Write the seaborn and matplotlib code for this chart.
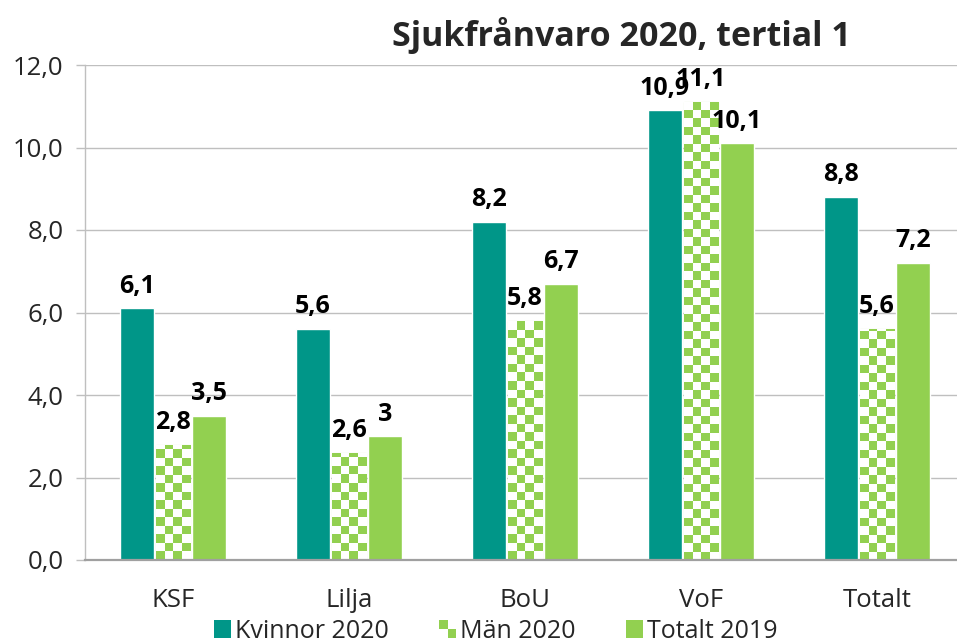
import numpy as np
import pandas as pd
import matplotlib
matplotlib.use("Agg")
import matplotlib.pyplot as plt
import seaborn as sns
from matplotlib.patches import Rectangle, Patch
from matplotlib.legend_handler import HandlerBase

categories = ["KSF", "Lilja", "BoU", "VoF", "Totalt"]
kvinnor_2020 = [6.1, 5.6, 8.2, 10.9, 8.8]
man_2020 = [2.8, 2.6, 5.8, 11.1, 5.6]
totalt_2019 = [3.5, 3.0, 6.7, 10.1, 7.2]
series_names = ["Kvinnor 2020", "Män 2020", "Totalt 2019"]
yticks = [0, 2, 4, 6, 8, 10, 12]

TEAL = "#009688"
GREEN = "#92D050"
GRID = "#bfbfbf"

df = pd.DataFrame({
    "cat": categories * 3,
    "val": kvinnor_2020 + man_2020 + totalt_2019,
    "serie": [series_names[0]] * 5 + [series_names[1]] * 5 + [series_names[2]] * 5,
})

sns.set_style("white")
plt.rcParams["font.family"] = ["Open Sans", "DejaVu Sans"]

fig = plt.figure(figsize=(9.57, 6.43), dpi=100)
ax = fig.add_axes([85 / 957, 83 / 643, 880 / 957, 495 / 643])

sns.barplot(data=df, x="cat", y="val", hue="serie", order=categories,
            hue_order=series_names, palette=[TEAL, GREEN, GREEN],
            width=0.614, gap=0.056, ax=ax, legend=False, saturation=1)

ax.set_ylim(0, 12)
ax.set_xlim(-0.5, 4.5)

# checkerboard fill for Män 2020
man_container = ax.containers[1]
sq_h = 0.206
for p in man_container.patches:
    x0, y0 = p.get_x(), p.get_y()
    w, h = p.get_width(), p.get_height()
    p.set_facecolor("white")
    p.set_edgecolor("#c4e6a0")
    p.set_linewidth(0.8)
    nx = 4
    ny = int(np.ceil(h / sq_h))
    arr = (np.add.outer(np.arange(ny), np.arange(nx)) % 2).astype(float)
    img = np.zeros((ny, nx, 4))
    g = matplotlib.colors.to_rgba(GREEN)
    img[arr == 0] = g
    img[arr == 1] = (1, 1, 1, 1)
    im = ax.imshow(img, extent=(x0, x0 + w, y0, y0 + ny * sq_h), origin="lower",
                   interpolation="nearest", aspect="auto", zorder=p.get_zorder() + 0.1)
    im.set_clip_path(p)

ax.set_ylim(0, 12)
ax.set_xlim(-0.5, 4.5)

def fmt(v):
    s = f"{v:.1f}"
    if s.endswith(".0"):
        s = s[:-2]
    return s.replace(".", ",")

data_lists = [kvinnor_2020, man_2020, totalt_2019]
for cont, vals in zip(ax.containers, data_lists):
    ax.bar_label(cont, labels=[fmt(v) for v in vals], padding=7,
                 fontsize=18, fontweight="bold", color="black", zorder=5)

ax.set_yticks(yticks)
ax.set_yticklabels([f"{t:.1f}".replace(".", ",") for t in yticks], fontsize=18.5)
ax.tick_params(axis="x", labelsize=18.5, pad=20, length=0)
ax.tick_params(axis="y", length=6.5, width=1, color=GRID, pad=9, direction="out", left=True)
ax.set_xlabel("")
ax.set_ylabel("")
ax.yaxis.grid(True, color=GRID, linewidth=1)
ax.set_axisbelow(True)
for s in ["top", "right"]:
    ax.spines[s].set_visible(False)
ax.spines["left"].set_color(GRID)
ax.spines["left"].set_linewidth(1)
ax.spines["bottom"].set_color("#a0a0a0")
ax.spines["bottom"].set_linewidth(1.6)

fig.text(0.649, 0.945, "Sjukfrånvaro 2020, tertial 1", ha="center", va="center",
         fontsize=24.5, fontweight="bold")

class CheckerHandler(HandlerBase):
    def create_artists(self, legend, orig_handle, xdescent, ydescent, width, height, fontsize, trans):
        s = min(width, height)
        x = -xdescent + (width - s) / 2
        y = -ydescent
        half = s / 2
        arts = []
        for i in range(2):
            for j in range(2):
                c = GREEN if (i + j) % 2 == 1 else "white"
                arts.append(Rectangle((x + i * half, y + j * half), half, half,
                                      facecolor=c, edgecolor="none", transform=trans))
        return arts

class SquareHandler(HandlerBase):
    def create_artists(self, legend, orig_handle, xdescent, ydescent, width, height, fontsize, trans):
        s = min(width, height)
        x = -xdescent + (width - s) / 2
        return [Rectangle((x, -ydescent), s, s, facecolor=orig_handle.get_facecolor(),
                          edgecolor="none", transform=trans)]

h1 = Patch(facecolor=TEAL)
h2 = Patch(facecolor=GREEN)
h3 = Patch(facecolor=GREEN)
fig.legend([h1, h2, h3], series_names, loc="center", bbox_to_anchor=(0.518, 0.018),
           ncol=3, frameon=False, fontsize=18, handlelength=0.7, handleheight=0.7,
           handletextpad=0.15, columnspacing=2.0,
           handler_map={h1: SquareHandler(), h2: CheckerHandler(), h3: SquareHandler()})

fig.savefig("out.png", dpi=100)
